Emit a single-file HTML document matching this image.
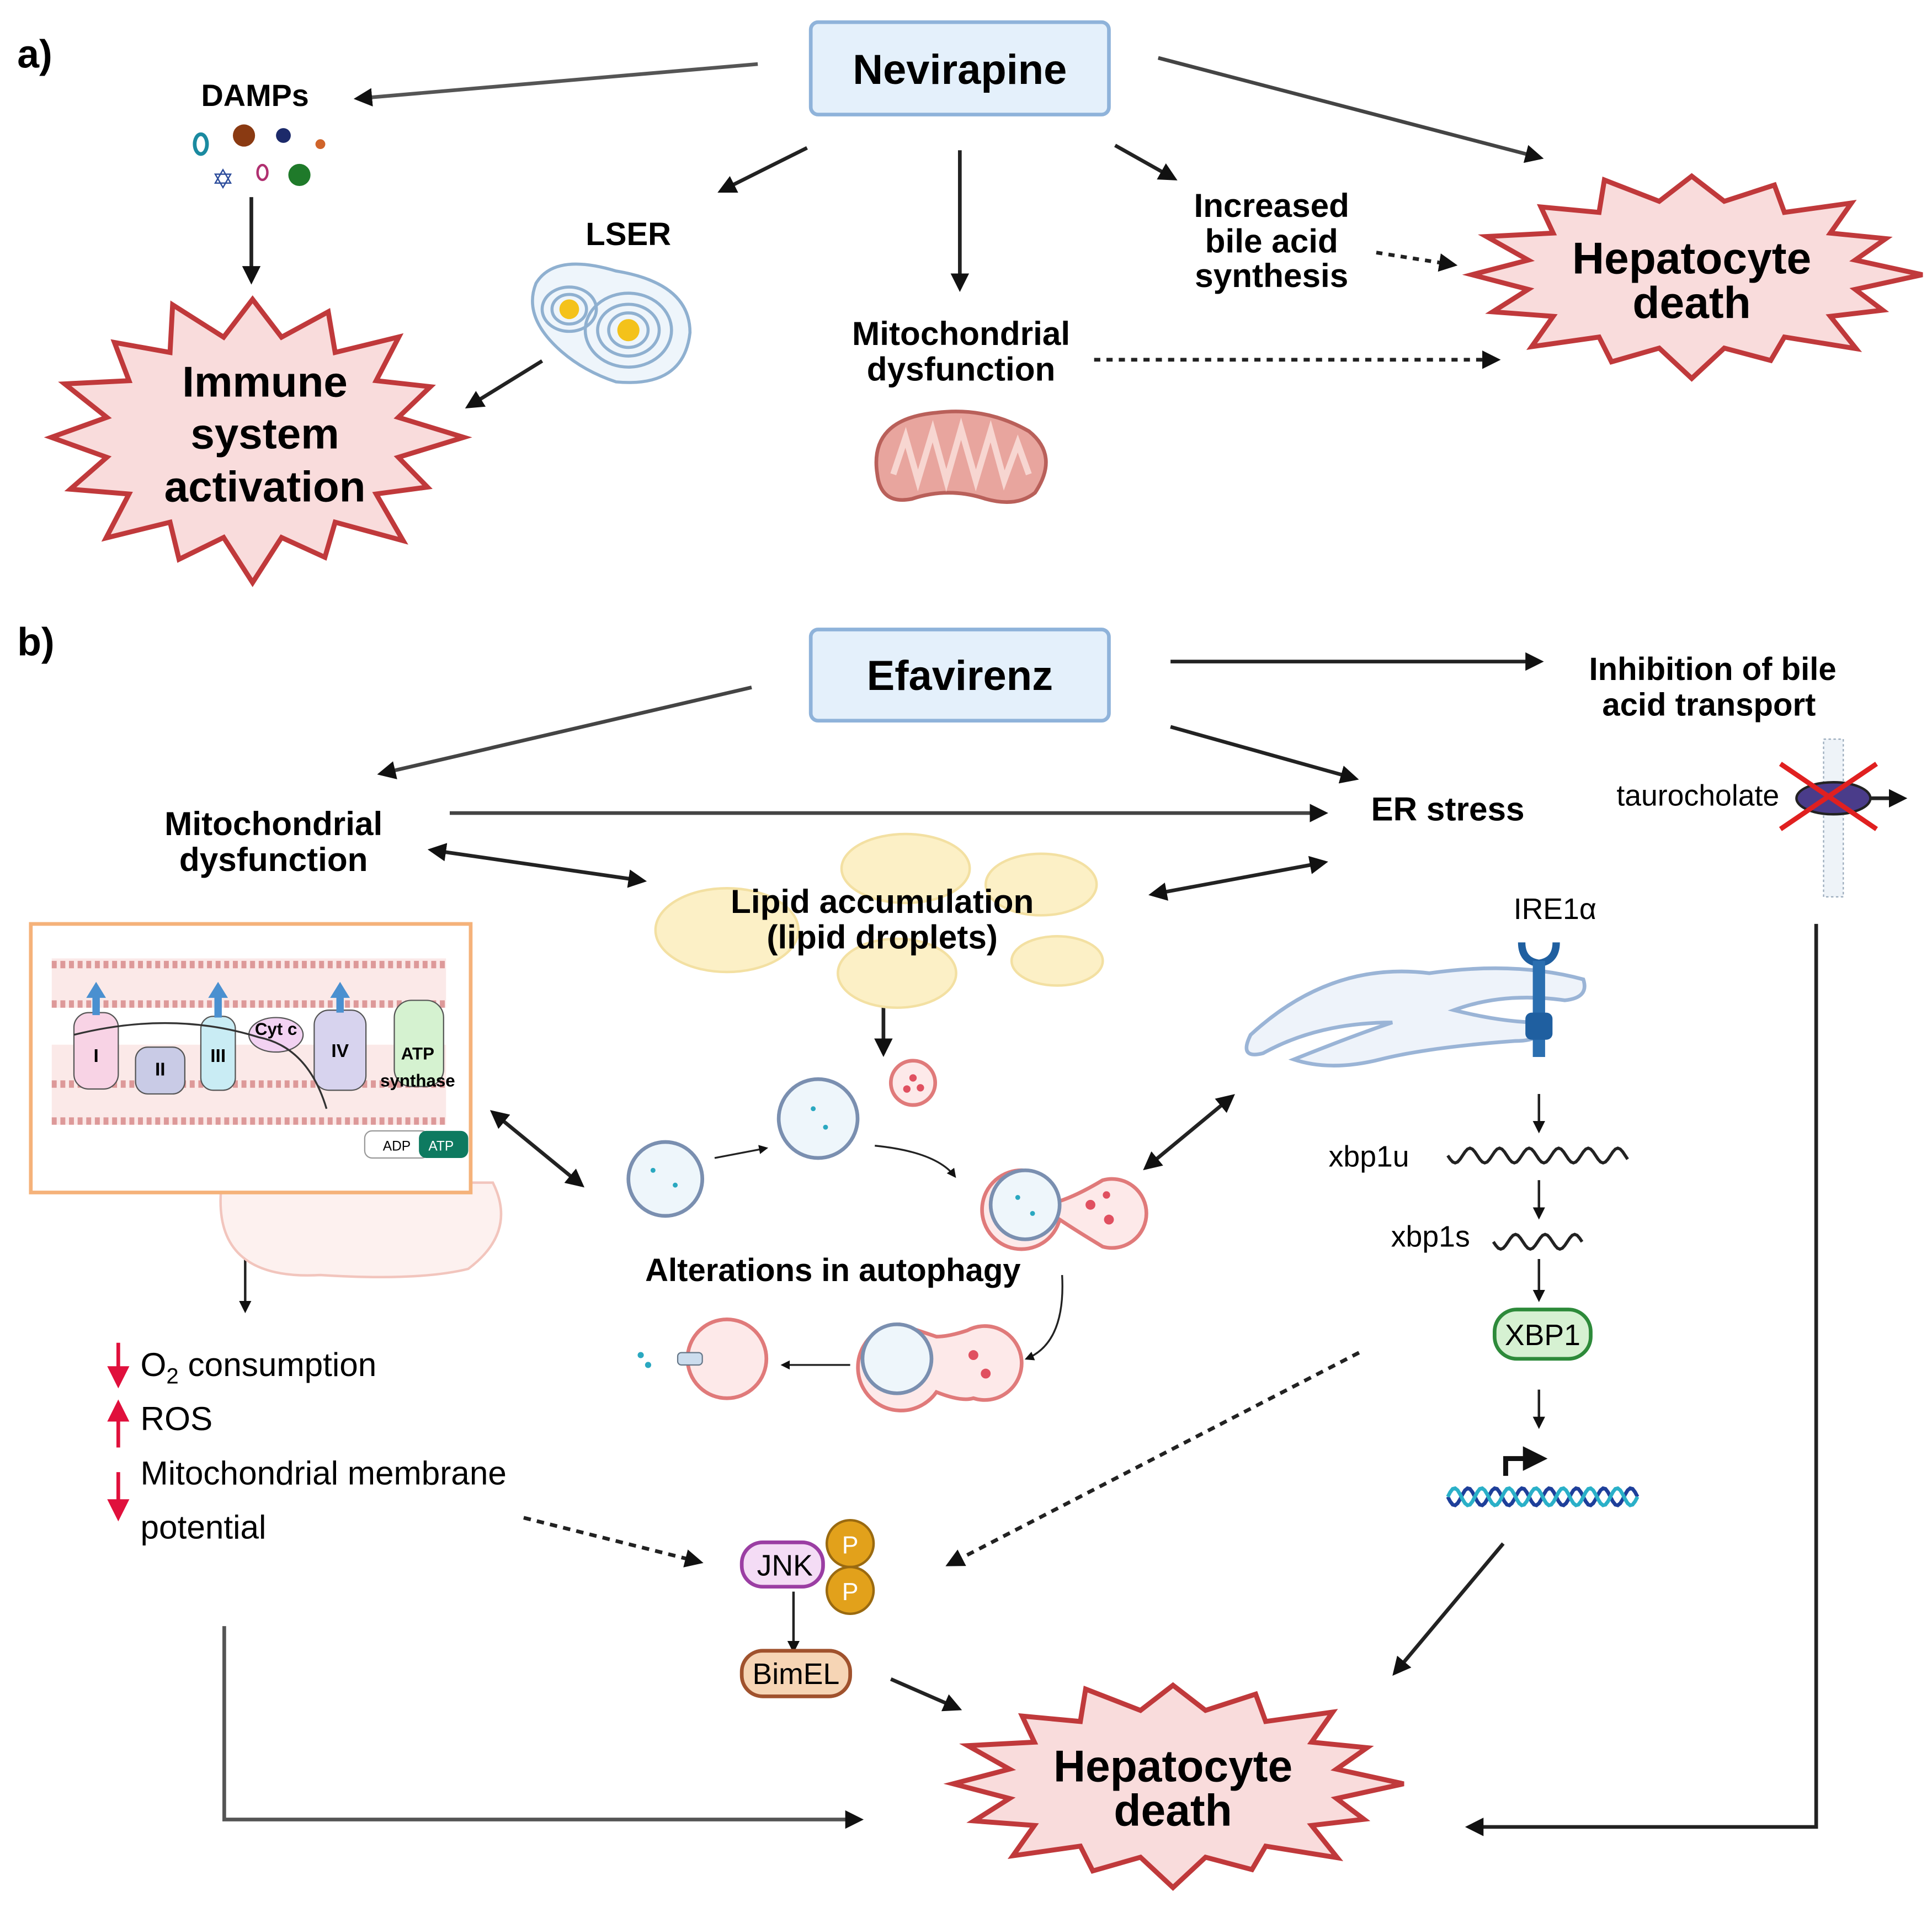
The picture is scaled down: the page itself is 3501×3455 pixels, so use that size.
<!DOCTYPE html>
<html><head><meta charset="utf-8"><style>
html,body{margin:0;padding:0;background:#fff;}
svg{display:block;}
text{font-family:"Liberation Sans",sans-serif;}
.b{font-weight:bold;}
</style></head><body>
<svg id="s" xmlns="http://www.w3.org/2000/svg" width="3501" height="3455" viewBox="0 0 1568 1548" preserveAspectRatio="none">
<defs>
<marker id="ah" viewBox="0 0 10 10" refX="8" refY="5" markerWidth="5" markerHeight="5" orient="auto-start-reverse"><path d="M0,0L10,5L0,10z" fill="#111"/></marker>
<marker id="ar" viewBox="0 0 10 10" refX="5" refY="5" markerWidth="6" markerHeight="6" orient="auto"><path d="M0,0L10,5L0,10z" fill="#e0103c"/></marker>
</defs>
<rect width="1568" height="1548" fill="#fff"/>
<g id="stars"></g>
<g fill="none" stroke="#222" stroke-width="3" marker-end="url(#ah)">
<line x1="615" y1="52" x2="290" y2="80" stroke="#555"/>
<line x1="940" y1="47" x2="1250" y2="128" stroke="#444"/>
<line x1="655" y1="120" x2="585" y2="155"/>
<line x1="779" y1="122" x2="779" y2="234"/>
<line x1="905" y1="118" x2="953" y2="145"/>
<line x1="204" y1="160" x2="204" y2="228"/>
<line x1="440" y1="293" x2="380" y2="330"/>
<line x1="1117" y1="205" x2="1180" y2="215" stroke-dasharray="5,5"/>
<line x1="888" y1="292" x2="1215" y2="292" stroke-dasharray="5,5"/>
<line x1="610" y1="558" x2="309" y2="628" stroke="#444"/>
<line x1="950" y1="537" x2="1250" y2="537"/>
<line x1="950" y1="590" x2="1100" y2="632"/>
<line x1="365" y1="660" x2="1075" y2="660" stroke="#444"/>
<line x1="350" y1="690" x2="522" y2="715" marker-start="url(#ah)"/>
<line x1="935" y1="726" x2="1075" y2="700" marker-start="url(#ah)"/>
<line x1="717" y1="773" x2="717" y2="855" marker-start="url(#ah)"/>
<line x1="400" y1="903" x2="472" y2="962" marker-start="url(#ah)"/>
<line x1="930" y1="948" x2="1000" y2="890" marker-start="url(#ah)"/>
<line x1="199" y1="1000" x2="199" y2="1064" stroke-width="2"/>
<line x1="425" y1="1232" x2="568" y2="1268" stroke-dasharray="6,5"/>
<line x1="1103" y1="1098" x2="770" y2="1270" stroke-dasharray="6,5"/>
<line x1="723" y1="1363" x2="778" y2="1387"/>
<line x1="1220" y1="1253" x2="1132" y2="1358"/>
<polyline points="182,1320 182,1477 698,1477" stroke="#555"/>
<polyline points="1474,750 1474,1483 1192,1483"/>
<line x1="1249" y1="888" x2="1249" y2="918" stroke-width="2"/>
<line x1="1249" y1="958" x2="1249" y2="988" stroke-width="2"/>
<line x1="1249" y1="1022" x2="1249" y2="1055" stroke-width="2"/>
<line x1="1249" y1="1128" x2="1249" y2="1158" stroke-width="2"/>
<line x1="644" y1="1292" x2="644" y2="1340" stroke-width="2"/>
<line x1="1510" y1="648" x2="1545" y2="648"/>
<line x1="580" y1="940" x2="622" y2="932" stroke-width="1.5"/>
<path d="M710,930 Q760,935 775,955" stroke-width="1.5"/>
<path d="M862,1035 Q865,1090 833,1103" stroke-width="1.5"/>
<line x1="690" y1="1108" x2="635" y2="1108" stroke-width="1.5"/>
</g>
<rect x="658" y="18" width="242" height="75" rx="6" fill="#e4f0fb" stroke="#8fb3da" stroke-width="3"/>
<text x="779" y="68" font-size="34" class="b" text-anchor="middle">Nevirapine</text>
<rect x="658" y="511" width="242" height="74" rx="6" fill="#e4f0fb" stroke="#8fb3da" stroke-width="3"/>
<text x="779" y="560" font-size="34" class="b" text-anchor="middle">Efavirenz</text>
<text x="14" y="55" font-size="32" class="b">a)</text>
<text x="14" y="532" font-size="32" class="b">b)</text>
<text x="207" y="86" font-size="25" class="b" text-anchor="middle">DAMPs</text>
<ellipse cx="163" cy="117" rx="5" ry="8" fill="none" stroke="#1a8aa0" stroke-width="3"/>
<circle cx="198" cy="110" r="9" fill="#8a3a12"/>
<circle cx="230" cy="110" r="6" fill="#1c2a6a"/>
<circle cx="260" cy="117" r="4" fill="#d0642a"/>
<text x="181" y="153" font-size="22" fill="#2a4a9a" text-anchor="middle">✡</text>
<ellipse cx="213" cy="140" rx="4" ry="6" fill="none" stroke="#b03070" stroke-width="2"/>
<circle cx="243" cy="142" r="9" fill="#1f7a2a"/>
<text x="510" y="199" font-size="26" class="b" text-anchor="middle">LSER</text>
<g fill="none" stroke="#8fb0d0" stroke-width="2.5">
<path d="M435,230 Q450,205 500,220 Q560,230 560,270 Q555,315 500,310 Q470,300 450,280 Q425,255 435,230z" fill="#eef5fb"/>
<ellipse cx="462" cy="251" rx="22" ry="18"/><ellipse cx="462" cy="251" rx="14" ry="12"/>
<ellipse cx="510" cy="268" rx="35" ry="30"/><ellipse cx="510" cy="268" rx="25" ry="21"/><ellipse cx="510" cy="268" rx="16" ry="14"/>
</g>
<circle cx="462" cy="251" r="8" fill="#f4c21a"/><circle cx="510" cy="268" r="9" fill="#f4c21a"/>
<path d="M712,385 Q705,340 760,335 Q800,330 835,350 Q860,370 840,400 Q825,412 800,405 Q770,395 740,405 Q715,410 712,385z" fill="#e8a59e" stroke="#b9605a" stroke-width="3"/>
<path d="M725,385 L735,355 L745,390 L757,350 L768,390 L780,348 L792,390 L804,350 L815,390 L826,360 L835,385" fill="none" stroke="#f7d6d1" stroke-width="5"/>
<text x="780" y="280" font-size="27" class="b" text-anchor="middle">Mitochondrial</text>
<text x="780" y="309" font-size="27" class="b" text-anchor="middle">dysfunction</text>
<text x="1032" y="176" font-size="27" class="b" text-anchor="middle">Increased</text>
<text x="1032" y="205" font-size="27" class="b" text-anchor="middle">bile acid</text>
<text x="1032" y="233" font-size="27" class="b" text-anchor="middle">synthesis</text>
<text x="1390" y="552" font-size="26" class="b" text-anchor="middle">Inhibition of bile</text>
<text x="1387" y="581" font-size="26" class="b" text-anchor="middle">acid transport</text>
<rect x="1480" y="600" width="16" height="128" fill="#eef3f8" stroke="#9ab" stroke-dasharray="2,2"/>
<text x="1378" y="654" font-size="24" text-anchor="middle">taurocholate</text>
<ellipse cx="1488" cy="648" rx="30" ry="13" fill="#4a3c8a" stroke="#222" stroke-width="2"/>
<line x1="1445" y1="620" x2="1523" y2="673" stroke="#e02020" stroke-width="4"/>
<line x1="1445" y1="673" x2="1523" y2="620" stroke="#e02020" stroke-width="4"/>
<text x="1175" y="666" font-size="27" class="b" text-anchor="middle">ER stress</text>
<text x="222" y="678" font-size="27" class="b" text-anchor="middle">Mitochondrial</text>
<text x="222" y="707" font-size="27" class="b" text-anchor="middle">dysfunction</text>
<g fill="#fcf0c6" stroke="#f3e0a2" stroke-width="2">
<ellipse cx="735" cy="705" rx="52" ry="28"/>
<ellipse cx="845" cy="718" rx="45" ry="25"/>
<ellipse cx="590" cy="755" rx="58" ry="34"/>
<ellipse cx="728" cy="790" rx="48" ry="28"/>
<ellipse cx="858" cy="780" rx="37" ry="20"/>
</g>
<text x="716" y="741" font-size="27" class="b" text-anchor="middle">Lipid accumulation</text>
<text x="716" y="770" font-size="27" class="b" text-anchor="middle">(lipid droplets)</text>
<path d="M180,960 Q170,1040 260,1035 Q340,1040 380,1030 Q420,1000 400,960z" fill="#fdf1ef" stroke="#f2c5bd" stroke-width="2"/>
<rect x="25" y="750" width="357" height="218" fill="#fff" stroke="#f5b27a" stroke-width="3"/>
<rect x="42" y="778" width="320" height="40" fill="#fbe9e8"/>
<rect x="42" y="848" width="320" height="65" fill="#fbe9e8"/>
<line x1="42" y1="783" x2="362" y2="783" stroke="#d99" stroke-width="6" stroke-dasharray="4,3"/>
<line x1="42" y1="815" x2="362" y2="815" stroke="#d99" stroke-width="6" stroke-dasharray="4,3"/>
<line x1="42" y1="880" x2="362" y2="880" stroke="#d99" stroke-width="6" stroke-dasharray="4,3"/>
<line x1="42" y1="910" x2="362" y2="910" stroke="#d99" stroke-width="6" stroke-dasharray="4,3"/>
<rect x="60" y="822" width="36" height="62" rx="12" fill="#f8d3e5" stroke="#555"/>
<rect x="110" y="850" width="40" height="38" rx="10" fill="#c9cbe6" stroke="#555"/>
<rect x="163" y="825" width="28" height="60" rx="10" fill="#c9ecf4" stroke="#555"/>
<ellipse cx="224" cy="840" rx="22" ry="14" fill="#f2d2f2" stroke="#555"/>
<rect x="255" y="820" width="42" height="65" rx="12" fill="#d7d3ee" stroke="#555"/>
<rect x="320" y="812" width="40" height="70" rx="14" fill="#d5f2d0" stroke="#555"/>
<g fill="#4a90d0">
<rect x="75" y="808" width="6" height="16"/><path d="M70,810L78,797L86,810z"/>
<rect x="174" y="808" width="6" height="18"/><path d="M169,810L177,797L185,810z"/>
<rect x="273" y="808" width="6" height="14"/><path d="M268,810L276,797L284,810z"/>
</g>
<text x="78" y="862" font-size="15" class="b" text-anchor="middle">I</text>
<text x="130" y="873" font-size="15" class="b" text-anchor="middle">II</text>
<text x="177" y="862" font-size="15" class="b" text-anchor="middle">III</text>
<text x="224" y="840" font-size="14" class="b" text-anchor="middle">Cyt c</text>
<text x="276" y="858" font-size="15" class="b" text-anchor="middle">IV</text>
<text x="339" y="860" font-size="14" class="b" text-anchor="middle">ATP</text>
<text x="339" y="882" font-size="14" class="b" text-anchor="middle">synthase</text>
<path d="M60,840 Q140,820 210,842 Q250,850 265,900" fill="none" stroke="#333" stroke-width="1.5"/>
<rect x="296" y="918" width="52" height="22" rx="6" fill="#fff" stroke="#999"/>
<rect x="340" y="918" width="40" height="22" rx="6" fill="#0e7a60"/>
<text x="322" y="934" font-size="11" text-anchor="middle">ADP</text>
<text x="358" y="934" font-size="11" fill="#fff" text-anchor="middle">ATP</text>
<g stroke-width="3">
<circle cx="540" cy="957" r="30" fill="#eef6fb" stroke="#7a8fb0"/>
<circle cx="664" cy="908" r="32" fill="#eef6fb" stroke="#7a8fb0"/>
<circle cx="741" cy="879" r="18" fill="#fde9e9" stroke="#e07a7a"/>
<path d="M830,950 A32,32 0 1,0 860,990 Q875,1000 895,1012 A28,28 0 1,0 895,958 Q875,970 860,975z" fill="#fde9e9" stroke="#e07a7a"/>
<circle cx="832" cy="978" r="28" fill="#eef6fb" stroke="#7a8fb0"/>
<path d="M730,1075 A35,35 0 1,0 760,1130 Q780,1138 790,1135 A30,30 0 1,0 785,1080 Q770,1085 760,1085z" fill="#fde9e9" stroke="#e07a7a"/>
<circle cx="728" cy="1103" r="28" fill="#eef6fb" stroke="#7a8fb0"/>
<circle cx="590" cy="1103" r="32" fill="#fde9e9" stroke="#e07a7a"/>
</g>
<g fill="#e05060"><circle cx="741" cy="875" r="3"/><circle cx="736" cy="884" r="3"/><circle cx="747" cy="883" r="3"/><circle cx="885" cy="978" r="4"/><circle cx="900" cy="990" r="4"/><circle cx="898" cy="970" r="3"/><circle cx="790" cy="1100" r="4"/><circle cx="800" cy="1115" r="4"/></g>
<g fill="#2aa8c0"><circle cx="530" cy="950" r="2"/><circle cx="548" cy="962" r="2"/><circle cx="660" cy="900" r="2"/><circle cx="670" cy="915" r="2"/><circle cx="826" cy="972" r="2"/><circle cx="838" cy="985" r="2"/><circle cx="520" cy="1100" r="2.5"/><circle cx="526" cy="1108" r="2.5"/></g>
<rect x="550" y="1098" width="20" height="10" rx="3" fill="#cde" stroke="#678"/>
<text x="676" y="1040" font-size="26" class="b" text-anchor="middle">Alterations in autophagy</text>
<path d="M1015,840 Q1080,780 1160,790 Q1230,780 1285,795 Q1290,810 1270,812 Q1220,805 1180,820 Q1220,830 1250,830 Q1255,845 1230,845 Q1160,850 1120,860 Q1080,870 1050,860 Q1100,840 1130,830 Q1070,830 1025,855 Q1005,860 1015,840z" fill="#eef3fa" stroke="#9ab4d6" stroke-width="3"/>
<text x="1262" y="746" font-size="24" text-anchor="middle">IRE1α</text>
<path d="M1235,765 Q1235,780 1249,782 Q1263,780 1263,765" fill="none" stroke="#1f5fa0" stroke-width="6"/>
<rect x="1244" y="780" width="10" height="78" fill="#2b6fb0"/>
<rect x="1238" y="822" width="22" height="22" rx="5" fill="#1f5fa0"/>
<text x="1111" y="947" font-size="24" text-anchor="middle">xbp1u</text>
<path id="w1" fill="none" stroke="#222" stroke-width="2.5"/>
<text x="1161" y="1012" font-size="24" text-anchor="middle">xbp1s</text>
<path id="w2" fill="none" stroke="#222" stroke-width="2.5"/>
<rect x="1213" y="1063" width="78" height="40" rx="18" fill="#d6f1d2" stroke="#2d8a3a" stroke-width="3"/>
<text x="1252" y="1092" font-size="24" text-anchor="middle">XBP1</text>
<path d="M1222,1198 L1222,1184 L1252,1184" fill="none" stroke="#111" stroke-width="4" marker-end="url(#ah)"/>
<path id="dna1" fill="none" stroke="#1e3f9a" stroke-width="3"/>
<path id="dna2" fill="none" stroke="#2ab0c8" stroke-width="3"/>
<g stroke="#e0103c" stroke-width="3">
<line x1="96" y1="1090" x2="96" y2="1118" marker-end="url(#ar)"/>
<line x1="96" y1="1175" x2="96" y2="1145" marker-end="url(#ar)"/>
<line x1="96" y1="1195" x2="96" y2="1226" marker-end="url(#ar)"/>
</g>
<text x="114" y="1117" font-size="27">O<tspan font-size="18" dy="6">2</tspan><tspan dy="-6"> consumption</tspan></text>
<text x="114" y="1161" font-size="27">ROS</text>
<text x="114" y="1205" font-size="27">Mitochondrial membrane</text>
<text x="114" y="1249" font-size="27">potential</text>
<rect x="602" y="1252" width="66" height="36" rx="17" fill="#f4dcf5" stroke="#9b3ea3" stroke-width="3"/>
<text x="637" y="1279" font-size="24" text-anchor="middle">JNK</text>
<circle cx="690" cy="1253" r="19" fill="#e2a11b" stroke="#9a6a10" stroke-width="2"/>
<circle cx="690" cy="1291" r="19" fill="#e2a11b" stroke="#9a6a10" stroke-width="2"/>
<text x="690" y="1261" font-size="20" fill="#fff" text-anchor="middle">P</text>
<text x="690" y="1299" font-size="20" fill="#fff" text-anchor="middle">P</text>
<rect x="602" y="1340" width="88" height="37" rx="17" fill="#f6d5b5" stroke="#a0522d" stroke-width="3"/>
<text x="646" y="1367" font-size="24" text-anchor="middle">BimEL</text>
<g class="b" font-weight="bold" text-anchor="middle">
<text x="215" y="322" font-size="35">Immune</text>
<text x="215" y="364" font-size="35">system</text>
<text x="215" y="407" font-size="35">activation</text>
<text x="1373" y="222" font-size="36">Hepatocyte</text>
<text x="1373" y="258" font-size="36">death</text>
<text x="952" y="1446" font-size="36">Hepatocyte</text>
<text x="952" y="1482" font-size="36">death</text>
</g>
</svg>
<script>
function star(cx,cy,rx,ry,n,inner){var p=[];for(var i=0;i<2*n;i++){var a=Math.PI*i/n-Math.PI/2;var r=(i%2==0)?1:inner;var j=(i%2==0)?(1+0.06*Math.sin(i*1.7)):1;p.push((cx+rx*r*j*Math.cos(a)).toFixed(1)+','+(cy+ry*r*j*Math.sin(a)).toFixed(1));}
var g=document.getElementById('stars');var e=document.createElementNS('http://www.w3.org/2000/svg','polygon');e.setAttribute('points',p.join(' '));e.setAttribute('fill','#f9dcdc');e.setAttribute('stroke','#c0393b');e.setAttribute('stroke-width','4');g.appendChild(e);}
star(205,355,163,112,16,0.74);
star(1373,223,178,80,16,0.76);
star(952,1448,178,80,16,0.76);
function wave(id,x0,x1,y,per,amp,s){var d='M'+x0+','+y;for(var x=x0;x<=x1;x+=2){d+=' L'+x+','+(y+s*amp*Math.sin((x-x0)/per*2*Math.PI)).toFixed(1);}document.getElementById(id).setAttribute('d',d);}
wave('w1',1175,1322,938,24,6,1);wave('w2',1212,1285,1008,24,6,1);
wave('dna1',1175,1330,1215,22,7,1);wave('dna2',1175,1330,1215,22,7,-1);
</script>
</body></html>
